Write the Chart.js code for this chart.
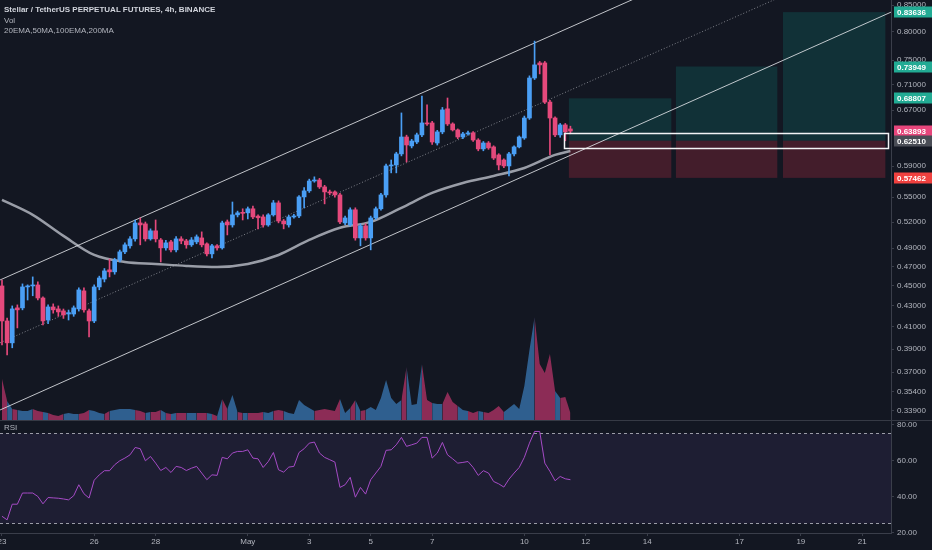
<!DOCTYPE html>
<html>
<head>
<meta charset="utf-8">
<script src="https://cdn.jsdelivr.net/npm/chart.js@4.4.1/dist/chart.umd.min.js"></script>
<style>
  html, body { margin:0; padding:0; background:#131722; }
  #wrap { position:relative; width:932px; height:550px; overflow:hidden; background:#131722; font-family:"Liberation Sans", Arial, sans-serif; }
  canvas { position:absolute; left:0; }
  #main { top:0; }
  #rsi { top:421px; }
  .sep { position:absolute; left:0; top:420px; width:932px; height:1px; background:#363a45; }
  .legend { position:absolute; left:4px; color:#b2b5be; font-size:8px; line-height:10.5px; white-space:nowrap; }
  .legend b { color:#d1d4dc; }
</style>
</head>
<body>
<div id="wrap">
  <canvas id="main" width="932" height="420"></canvas>
  <div class="sep"></div>
  <canvas id="rsi" width="932" height="129"></canvas>
  <div class="legend" style="top:5px"><b>Stellar / TetherUS PERPETUAL FUTURES, 4h, BINANCE</b><br>Vol<br>20EMA,50MA,100EMA,200MA</div>
  <div class="legend" style="top:423px">RSI</div>
</div>
<script>
// ─── Data (4h candles, starting 23 Apr) ───────────────
const opens = [
  0.4499, 0.4156, 0.3955, 0.4281, 0.4281, 0.4489, 0.4499, 0.4509, 0.4378, 0.4165,
  0.4290, 0.4271, 0.4252, 0.4222, 0.4222, 0.4271, 0.4449, 0.4252, 0.4156, 0.4489,
  0.4570, 0.4666, 0.4645, 0.4771, 0.4860, 0.4927, 0.5005, 0.5189, 0.5178, 0.5005,
  0.5097, 0.4993, 0.4904, 0.4971, 0.4882, 0.5005, 0.4982, 0.4938, 0.4971, 0.5016,
  0.4949, 0.4838, 0.4927, 0.4904, 0.5201, 0.5166, 0.5285, 0.5315, 0.5309, 0.5358,
  0.5270, 0.5260, 0.5166, 0.5285, 0.5430, 0.5212, 0.5166, 0.5260, 0.5272, 0.5504,
  0.5580, 0.5706, 0.5719, 0.5630, 0.5567, 0.5567, 0.5529, 0.5189, 0.5166, 0.5346,
  0.5016, 0.5155, 0.5016, 0.5248, 0.5358, 0.5529, 0.5904, 0.5917, 0.6067, 0.6304,
  0.6178, 0.6233, 0.6334, 0.6508, 0.6508, 0.6219, 0.6377, 0.6719, 0.6493, 0.6406,
  0.6304, 0.6348, 0.6363, 0.6261, 0.6136, 0.6219, 0.6164, 0.6053, 0.5984, 0.5904,
  0.6067, 0.6164, 0.6290, 0.6581, 0.7205, 0.7455, 0.7455, 0.6823, 0.6581, 0.6334,
  0.6479, 0.6420
];
const highs = [
  0.4560, 0.4184, 0.4300, 0.4310, 0.4520, 0.4510, 0.4592, 0.4540, 0.4390, 0.4310,
  0.4320, 0.4300, 0.4270, 0.4260, 0.4300, 0.4480, 0.4480, 0.4270, 0.4510, 0.4600,
  0.4680, 0.4782, 0.4790, 0.4880, 0.4960, 0.5030, 0.5224, 0.5248, 0.5200, 0.5120,
  0.5224, 0.5010, 0.4990, 0.4990, 0.5030, 0.5030, 0.5000, 0.5020, 0.5050, 0.5085,
  0.4960, 0.4945, 0.4940, 0.5210, 0.5224, 0.5441, 0.5330, 0.5358, 0.5380, 0.5390,
  0.5285, 0.5285, 0.5300, 0.5460, 0.5455, 0.5230, 0.5280, 0.5290, 0.5520, 0.5620,
  0.5730, 0.5760, 0.5740, 0.5650, 0.5590, 0.5580, 0.5550, 0.5270, 0.5370, 0.5370,
  0.5180, 0.5180, 0.5270, 0.5380, 0.5550, 0.5930, 0.5984, 0.6090, 0.6657, 0.6330,
  0.6270, 0.6360, 0.6916, 0.6779, 0.6530, 0.6400, 0.6740, 0.6886, 0.6510, 0.6420,
  0.6370, 0.6390, 0.6380, 0.6280, 0.6240, 0.6240, 0.6180, 0.6070, 0.6000, 0.6090,
  0.6180, 0.6320, 0.6610, 0.7240, 0.7833, 0.7480, 0.7480, 0.6850, 0.6600, 0.6500,
  0.6500, 0.6460
];
const lows = [
  0.3937, 0.3849, 0.3911, 0.4091, 0.4262, 0.4358, 0.4400, 0.4358, 0.4119, 0.4130,
  0.4230, 0.4200, 0.4180, 0.4165, 0.4200, 0.4250, 0.4240, 0.4009, 0.4140, 0.4460,
  0.4540, 0.4592, 0.4620, 0.4750, 0.4840, 0.4900, 0.4980, 0.4938, 0.4980, 0.4990,
  0.4970, 0.4750, 0.4880, 0.4860, 0.4860, 0.4950, 0.4900, 0.4920, 0.4950, 0.4915,
  0.4815, 0.4793, 0.4880, 0.4890, 0.5050, 0.5140, 0.5260, 0.5224, 0.5236, 0.5240,
  0.5120, 0.5140, 0.5150, 0.5270, 0.5190, 0.5120, 0.5140, 0.5245, 0.5250, 0.5370,
  0.5560, 0.5690, 0.5610, 0.5418, 0.5530, 0.5500, 0.5180, 0.5170, 0.5150, 0.4990,
  0.4927, 0.4990, 0.4882, 0.5230, 0.5340, 0.5500, 0.5812, 0.5812, 0.6040, 0.5957,
  0.6150, 0.6210, 0.6310, 0.6470, 0.6200, 0.6190, 0.6350, 0.6470, 0.6390, 0.6280,
  0.6280, 0.6330, 0.6240, 0.6110, 0.6110, 0.6130, 0.5990, 0.5851, 0.5880, 0.5772,
  0.6040, 0.6150, 0.6270, 0.6560, 0.7180, 0.7272, 0.6800, 0.6053, 0.6310, 0.6300,
  0.6250, 0.6350
];
const closes = [
  0.4156, 0.3955, 0.4271, 0.4262, 0.4489, 0.4499, 0.4509, 0.4378, 0.4156, 0.4290,
  0.4262, 0.4242, 0.4213, 0.4235, 0.4281, 0.4459, 0.4262, 0.4156, 0.4489, 0.4581,
  0.4655, 0.4645, 0.4771, 0.4860, 0.4938, 0.5005, 0.5189, 0.5166, 0.5005, 0.5097,
  0.5005, 0.4904, 0.4960, 0.4882, 0.5005, 0.4982, 0.4938, 0.4993, 0.5028, 0.4938,
  0.4838, 0.4927, 0.4904, 0.5189, 0.5166, 0.5285, 0.5309, 0.5303, 0.5358, 0.5260,
  0.5250, 0.5166, 0.5285, 0.5430, 0.5212, 0.5178, 0.5260, 0.5272, 0.5504, 0.5580,
  0.5706, 0.5719, 0.5630, 0.5567, 0.5554, 0.5529, 0.5201, 0.5248, 0.5346, 0.5016,
  0.5155, 0.5016, 0.5248, 0.5358, 0.5529, 0.5904, 0.5917, 0.6067, 0.6304, 0.6191,
  0.6247, 0.6334, 0.6508, 0.6493, 0.6233, 0.6377, 0.6703, 0.6493, 0.6406, 0.6304,
  0.6348, 0.6363, 0.6261, 0.6136, 0.6219, 0.6150, 0.6011, 0.5917, 0.5904, 0.6067,
  0.6164, 0.6304, 0.6581, 0.7205, 0.7422, 0.7422, 0.6823, 0.6581, 0.6334, 0.6479,
  0.6377, 0.6389
];
const volumes = [
  41, 19, 11, 10, 9, 9, 11, 9, 8, 7,
  5, 4, 6, 7, 6, 6, 7, 10, 9, 7,
  6, 9, 10, 11, 11, 11, 10, 9, 7, 8,
  8, 10, 7, 6, 7, 7, 7, 7, 7, 7,
  7, 6, 4, 21, 11, 25, 8, 7, 7, 7,
  7, 8, 7, 9, 10, 9, 7, 6, 20, 15,
  12, 9, 10, 11, 10, 9, 21, 7, 12, 20,
  9, 10, 13, 10, 22, 40, 22, 16, 20, 53,
  15, 16, 56, 20, 17, 16, 16, 28, 18, 14,
  10, 9, 7, 9, 8, 7, 10, 14, 8, 12,
  16, 11, 34, 70, 103, 56, 47, 66, 29, 22,
  23, 7
];
const rsi = [
  29.0, 27.0, 35.7, 35.7, 41.9, 41.9, 41.9, 40.0, 35.9, 39.4,
  39.2, 39.0, 38.6, 38.1, 40.4, 46.5, 41.5, 39.1, 49.0, 52.0,
  54.3, 54.3, 57.6, 59.8, 61.3, 63.1, 67.2, 66.5, 59.8, 62.2,
  58.5, 54.4, 56.1, 53.3, 56.7, 56.1, 54.4, 55.7, 56.7, 53.0,
  49.3, 52.0, 51.7, 61.7, 60.9, 64.1, 65.0, 65.0, 65.9, 61.3,
  60.9, 56.1, 59.4, 64.4, 54.8, 53.5, 56.3, 56.7, 64.4, 66.5,
  69.6, 70.2, 64.1, 61.7, 60.4, 59.1, 45.0, 46.5, 50.6, 39.6,
  45.0, 41.3, 49.3, 53.0, 56.7, 65.6, 65.9, 68.7, 72.8, 67.8,
  68.7, 69.6, 72.8, 72.8, 61.3, 64.1, 70.0, 63.1, 60.9, 58.5,
  58.9, 59.4, 56.1, 51.7, 54.3, 53.0, 48.3, 47.0, 45.2, 49.6,
  53.0, 56.1, 61.7, 69.6, 76.1, 76.1, 58.5, 53.9, 48.7, 51.1,
  49.8, 49.3
];
// slow moving average, read once per day
const maBars = [0, 6, 12, 18, 24, 30, 36, 42, 48, 54, 60, 66, 72, 78, 84, 90, 96, 102, 108, 111];
const maVals = [0.5466, 0.5285, 0.5039, 0.4826, 0.4750, 0.4729, 0.4708, 0.4697, 0.4729, 0.4826,
                0.4993, 0.5132, 0.5201, 0.5370, 0.5554, 0.5680, 0.5772, 0.5877, 0.6053, 0.6108];

// channel lines: price at left and right edge of the pane
const chanUpper = [0.4560, 1.1155];
const chanMid   = [0.3955, 0.9671];
const chanLower = [0.3397, 0.83636];

// long position tool
const entryPrice = 0.62510;
const stopPrice = 0.57462;
const targets = [0.68807, 0.73949, 0.83636];
const boxFrom = [110.7, 131.6, 152.5];
const boxTo   = [130.7, 151.4, 172.5];
const zoneBars = [109.8, 173.0];
const zonePrices = [0.6150, 0.6365];

// axes
const priceTicks = [0.339, 0.354, 0.37, 0.39, 0.41, 0.43, 0.45, 0.47, 0.49, 0.52, 0.55, 0.59, 0.67, 0.71, 0.75, 0.80, 0.85];
const rsiTicks = [20, 40, 60, 80];
const rsiBands = [25, 75];
const dayTicks  = [0, 18, 30, 48, 60, 72, 84, 102, 114, 126, 144, 156, 168];
const dayLabels = ['23', '26', '28', 'May', '3', '5', '7', '10', '12', '14', '17', '19', '21'];
const tagValues = [0.83636, 0.73949, 0.68807, 0.63893, 0.62510, 0.57462];
const tagColors = ['#22ab94', '#22ab94', '#22ab94', '#e8467c', '#4a4d56', '#f0413f'];

// ─── Styling ──────────────────────────────────────────
const BLUE = '#4a9ff5', RED = '#e5497c';
const BLUE_FILL = 'rgba(64,140,210,0.62)', RED_FILL = 'rgba(214,58,118,0.62)';
const xMin = -0.39, xMax = 173.6;
const up = i => closes[i] >= opens[i];
const bars = opens.map((_, i) => i);

Chart.defaults.font.family = '"Liberation Sans", Arial, sans-serif';
Chart.defaults.font.size = 8;
Chart.defaults.color = '#b2b5be';

const noPad = s => { s.paddingTop = 0; s.paddingBottom = 0; s.paddingLeft = 0; s.paddingRight = 0; };

const positionPlugin = {
    id: 'positionTool',
    beforeDatasetsDraw(chart) {
        const {ctx, scales: {x, y}} = chart;
        const yE = y.getPixelForValue(entryPrice), yS = y.getPixelForValue(stopPrice);
        ctx.save();
        targets.forEach((t, k) => {
            const x0 = x.getPixelForValue(boxFrom[k]), x1 = x.getPixelForValue(boxTo[k]);
            const yT = y.getPixelForValue(t);
            ctx.fillStyle = 'rgba(16,120,110,0.28)';
            ctx.fillRect(x0, yT, x1 - x0, yE - yT);
            ctx.fillStyle = 'rgba(205,45,70,0.26)';
            ctx.fillRect(x0, yE, x1 - x0, yS - yE);
        });
        ctx.restore();
    },
    afterDatasetsDraw(chart) {
        const {ctx, scales: {x, y}} = chart;
        const x0 = x.getPixelForValue(zoneBars[0]), x1 = x.getPixelForValue(zoneBars[1]);
        const y0 = y.getPixelForValue(zonePrices[1]), y1 = y.getPixelForValue(zonePrices[0]);
        ctx.save();
        ctx.strokeStyle = '#f2f3f5';
        ctx.lineWidth = 1.5;
        ctx.strokeRect(Math.round(x0) + 0.5, Math.round(y0) + 0.5, Math.round(x1 - x0), Math.round(y1 - y0));
        ctx.restore();
    },
    afterDraw(chart) {
        const {ctx, chartArea: a, scales: {y}} = chart;
        ctx.save();
        ctx.font = 'bold 8px "Liberation Sans", Arial, sans-serif';
        ctx.textBaseline = 'middle';
        tagValues.forEach((v, k) => {
            const yy = Math.round(y.getPixelForValue(v));
            ctx.fillStyle = tagColors[k];
            ctx.fillRect(a.right + 3, yy - 5.5, chart.width - a.right - 3, 11);
            ctx.fillStyle = '#ffffff';
            ctx.fillText(v.toFixed(5), a.right + 6, yy + 0.5);
        });
        ctx.restore();
    }
};

new Chart(document.getElementById('main'), {
    type: 'bar',
    data: {
        datasets: [
            {
                type: 'bar', label: 'body', yAxisID: 'y', order: 1,
                data: bars.map(i => ({x: i, y: [opens[i], closes[i]]})),
                backgroundColor: bars.map(i => up(i) ? BLUE : RED),
                barThickness: 4, minBarLength: 1, grouped: false
            },
            {
                type: 'bar', label: 'wick', yAxisID: 'y', order: 2,
                data: bars.map(i => ({x: i, y: [lows[i], highs[i]]})),
                backgroundColor: bars.map(i => up(i) ? BLUE : RED),
                barThickness: 1, grouped: false
            },
            {
                type: 'line', label: 'upper', yAxisID: 'y', order: 5,
                data: [{x: xMin, y: chanUpper[0]}, {x: xMax, y: chanUpper[1]}],
                borderColor: 'rgba(225,227,232,0.85)', borderWidth: 1, pointRadius: 0
            },
            {
                type: 'line', label: 'mid', yAxisID: 'y', order: 5,
                data: [{x: xMin, y: chanMid[0]}, {x: xMax, y: chanMid[1]}],
                borderColor: 'rgba(200,202,208,0.6)', borderWidth: 1, borderDash: [1, 2], pointRadius: 0
            },
            {
                type: 'line', label: 'lower', yAxisID: 'y', order: 5,
                data: [{x: xMin, y: chanLower[0]}, {x: xMax, y: chanLower[1]}],
                borderColor: 'rgba(225,227,232,0.85)', borderWidth: 1, pointRadius: 0
            },
            {
                type: 'line', label: 'MA', yAxisID: 'y', order: 8,
                data: maBars.map((b, k) => ({x: b, y: maVals[k]})),
                borderColor: 'rgba(178,181,190,0.85)', borderWidth: 2.5, pointRadius: 0,
                cubicInterpolationMode: 'monotone'
            },
            {
                type: 'line', label: 'Vol', yAxisID: 'vol', order: 10,
                data: bars.map(i => ({x: i, y: volumes[i]})),
                fill: 'origin', pointRadius: 0, borderWidth: 0, borderColor: 'rgba(0,0,0,0)',
                backgroundColor: BLUE_FILL,
                segment: {
                    backgroundColor: c => up(c.p1DataIndex) ? BLUE_FILL : RED_FILL,
                    borderColor: 'rgba(0,0,0,0)'
                }
            }
        ]
    },
    options: {
        responsive: false,
        animation: false,
        layout: { padding: 0 },
        plugins: { legend: { display: false }, tooltip: { enabled: false } },
        scales: {
            x: { type: 'linear', min: xMin, max: xMax, display: false, offset: false },
            y: {
                type: 'logarithmic', position: 'right', min: 0.3321, max: 0.8597,
                afterBuildTicks: s => { s.ticks = priceTicks.map(v => ({value: v})); },
                afterFit: s => { s.width = 41; noPad(s); },
                ticks: { callback: v => Number(v).toFixed(5), padding: 3, autoSkip: false },
                grid: { drawOnChartArea: false, drawTicks: true, tickLength: 3, color: '#3a3e4a' },
                border: { display: true, color: '#3a3e4a' }
            },
            vol: { type: 'linear', display: false, min: 0, max: 420 }
        }
    },
    plugins: [positionPlugin]
});

// ─── RSI pane ─────────────────────────────────────────
const bandPlugin = {
    id: 'rsiBands',
    beforeDatasetsDraw(chart) {
        const {ctx, chartArea: a, scales: {y}} = chart;
        const yTop = y.getPixelForValue(rsiBands[1]), yBot = y.getPixelForValue(rsiBands[0]);
        ctx.save();
        ctx.fillStyle = 'rgba(126,87,194,0.11)';
        ctx.fillRect(a.left, yTop, a.width, yBot - yTop);
        ctx.strokeStyle = 'rgba(200,202,210,0.75)';
        ctx.lineWidth = 1;
        ctx.setLineDash([3, 3]);
        [yTop, yBot].forEach(yy => {
            ctx.beginPath();
            ctx.moveTo(a.left, Math.round(yy) + 0.5);
            ctx.lineTo(a.right, Math.round(yy) + 0.5);
            ctx.stroke();
        });
        ctx.restore();
    }
};

new Chart(document.getElementById('rsi'), {
    type: 'line',
    data: {
        datasets: [{
            label: 'RSI',
            data: bars.map(i => ({x: i, y: rsi[i]})),
            borderColor: '#a54bc6', borderWidth: 1, pointRadius: 0, tension: 0
        }]
    },
    options: {
        responsive: false,
        animation: false,
        layout: { padding: 0 },
        plugins: { legend: { display: false }, tooltip: { enabled: false } },
        scales: {
            x: {
                type: 'linear', min: xMin, max: xMax, position: 'bottom',
                afterBuildTicks: s => { s.ticks = dayTicks.map(v => ({value: v})); },
                afterFit: s => { s.height = 17; noPad(s); },
                ticks: { callback: v => dayLabels[dayTicks.indexOf(v)], padding: 1, autoSkip: false, maxRotation: 0 },
                grid: { drawOnChartArea: false, tickLength: 3, color: '#3a3e4a' },
                border: { display: true, color: '#3a3e4a' }
            },
            y: {
                position: 'right', min: 19.7, max: 81.9,
                afterBuildTicks: s => { s.ticks = rsiTicks.map(v => ({value: v})); },
                afterFit: s => { s.width = 41; noPad(s); },
                ticks: { callback: v => Number(v).toFixed(2), padding: 3, autoSkip: false },
                grid: { drawOnChartArea: false, tickLength: 3, color: '#3a3e4a' },
                border: { display: true, color: '#3a3e4a' }
            }
        }
    },
    plugins: [bandPlugin]
});
</script>
</body>
</html>
